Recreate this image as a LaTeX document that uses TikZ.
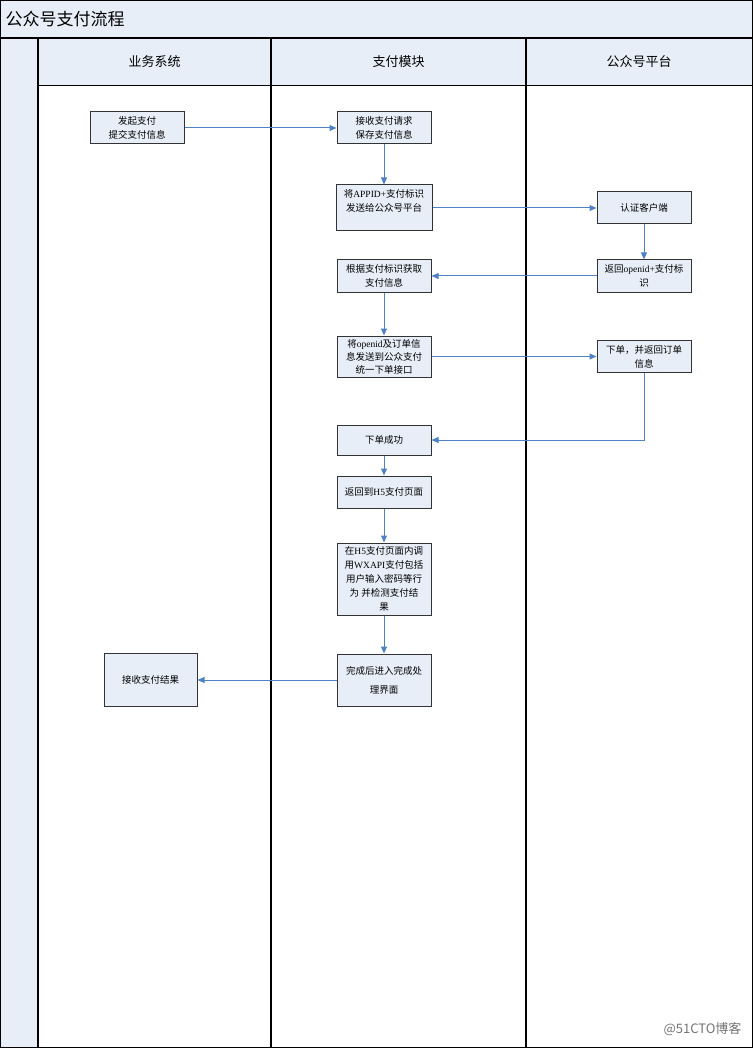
\documentclass[tikz,border=0pt]{standalone}
\usepackage{fontspec}
\setmainfont{Noto Sans CJK SC}
\newfontfamily\latin{Liberation Serif}
\usetikzlibrary{positioning, arrows.meta}
\definecolor{laneblue}{RGB}{232,238,247}
\definecolor{flowblue}{RGB}{79,129,199}
\tikzset{>={Triangle[length=7pt,width=6pt]}, % small filled arrow heads
box/.style={draw=black!80, fill=laneblue, line width=1pt, minimum width=94pt, minimum height=32pt, inner sep=2pt, align=center, font=\fontsize{9.5}{14}\selectfont}, % the process boxes
flow/.style={->, draw=flowblue, line width=1pt}, % blue connectors
lane/.style={line width=1.2pt}, % swimlane borders
}

\begin{document}
\begin{tikzpicture}[x=1pt, y=-1pt]
  \useasboundingbox (0,0) rectangle (753,1048);
  \fill[laneblue] (0,0) rectangle (753,38);
  \fill[laneblue] (0,38) rectangle (38,1048);
  \fill[laneblue] (38,38) rectangle (753,86);
  \draw[lane] (0.6,0.6) rectangle (752.4,1047.4);
  \draw[line width=2.5pt] (0,38) -- (753,38);
  \draw[lane] (38,38) -- (38,1048)
  		(271,38) -- (271,1048)
  		(526,38) -- (526,1048);
  \draw[line width=1pt] (38,86) -- (753,86);

  \node[anchor=west, font=\fontsize{17}{17}\selectfont] (title) at (2,19) {公众号支付流程};
  \node[font=\fontsize{13}{13}\selectfont] (biz) at (154.5,62) {业务系统};
  \node[font=\fontsize{13}{13}\selectfont] (pay) at (398.5,62) {支付模块};
  \node[font=\fontsize{13}{13}\selectfont] (mp) at (639,62) {公众号平台};

  \node[box] (recv) at (384,128) {接收支付请求\\保存支付信息};
  \node[box, left=152pt of recv] (start) {发起支付\\提交支付信息};
  \node[box, minimum width=96pt, minimum height=46pt, below=40pt of recv] (send) {将{\latin APPID+}支付标识\\发送给公众号平台\\~};
  \node[box, right=164pt of send] (auth) {认证客户端};
  \node[box, below=28pt of send] (fetch) {根据支付标识获取\\支付信息};
  \node[box, right=165pt of fetch] (ret) {返回{\latin openid+}支付标\\识};
  \node[box, minimum height=41pt, below=43pt of fetch, font=\fontsize{9.5}{13}\selectfont] (order) {将{\latin openid}及订单信\\息发送到公众支付\\统一下单接口};
  \node[box, right=165pt of order] (place) {下单，并返回订单\\信息};
  \node[box, minimum height=30pt, below=47pt of order] (ok) {下单成功};
  \node[box, below=20pt of ok] (h5) {返回到{\latin H5}支付页面};
  \node[box, minimum height=72pt, below=34pt of h5] (call) {在{\latin H5}支付页面内调\\用{\latin WXAPI}支付包括\\用户输入密码等行\\为\ 并检测支付结\\果};
  \node[box, minimum height=52pt, below=38pt of call] (done) {完成后进入完成处\\[5pt]理界面};
  \node[box, minimum width=93pt, minimum height=53pt, left=139pt of done] (result) {接收支付结果};

  \node[anchor=east, text=black!55, font=\fontsize{13}{13}\selectfont] (mark) at (745,1029) {@51CTO博客};

  \draw[flow] (start) -- (recv);
  \draw[flow] (recv) -- (send);
  \draw[flow] (send) -- (auth);
  \draw[flow] (auth) -- (ret);
  \draw[flow] (ret) -- (fetch);
  \draw[flow] (fetch) -- (order);
  \draw[flow] (order) -- (place);
  \draw[flow] (place) |- (ok);
  \draw[flow] (ok) -- (h5);
  \draw[flow] (h5) -- (call);
  \draw[flow] (call) -- (done);
  \draw[flow] (done) -- (result);
\end{tikzpicture}
\end{document}
